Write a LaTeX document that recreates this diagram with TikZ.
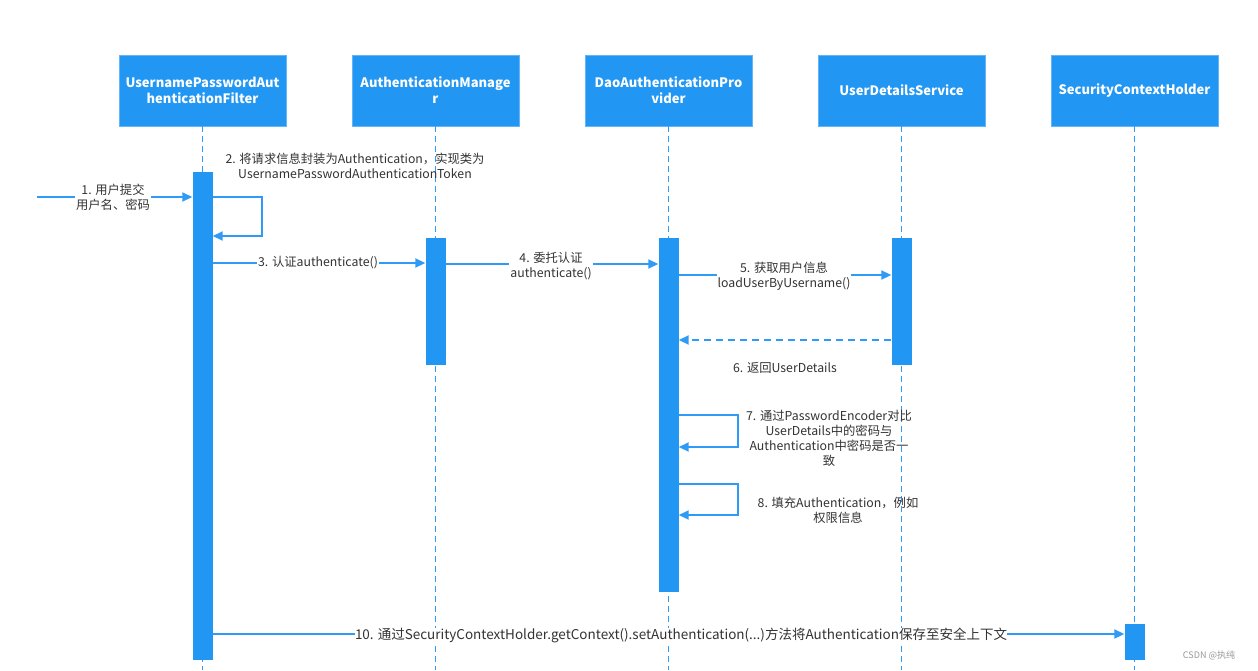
\documentclass[tikz,border=0pt]{standalone}
\usepackage{fontspec}
\setmainfont{Noto Sans CJK SC}
\usetikzlibrary{arrows.meta}
\definecolor{bl}{HTML}{2196F3}
\definecolor{ln}{HTML}{2F9BF7}
\definecolor{tx}{HTML}{333333}
\definecolor{wm}{HTML}{999999}
\begin{document}
\begin{tikzpicture}[x=1pt,y=-1pt,
  head/.style={fill=bl,draw=bl!70!white,line width=0.6pt,minimum width=167pt,minimum height=71pt,text=white,
    font=\fontsize{13}{16}\selectfont\bfseries,align=center,inner sep=0pt},
  bar/.style={fill=bl,minimum width=20pt,inner sep=0pt,draw=none},
  life/.style={draw=ln,dash pattern=on 6pt off 4pt,line width=1.3pt},
  msg/.style={draw=ln,line width=1.8pt,-{Triangle[length=10pt,width=9pt]}},
  ret/.style={msg,dash pattern=on 7pt off 5pt},
  lbl/.style={text=tx,font=\fontsize{12.3}{15}\selectfont,align=center,inner sep=1pt},
  lblw/.style={lbl,fill=white}]
\useasboundingbox (0,0) rectangle (1258,670);
\fill[white] (0,0) rectangle (1258,670);

% heads
\node[head] (b1) at (202.5,90.5) {UsernamePasswordAut\\henticationFilter};
\node[head] (b2) at (435.5,90.5) {AuthenticationManage\\r};
\node[head] (b3) at (668.5,90.5) {DaoAuthenticationPro\\vider};
\node[head] (b4) at (901.5,90.5) {UserDetailsService};
\node[head] (b5) at (1134.5,90.5) {SecurityContextHolder};

% lifeline ends
\coordinate (e1) at (202.5,670);
\coordinate (e2) at (435.5,670);
\coordinate (e3) at (668.5,670);
\coordinate (e4) at (901.5,670);
\coordinate (e5) at (1134.5,670);
\draw[life] (b1.south) -- (e1);
\draw[life] (b2.south) -- (e2);
\draw[life] (b3.south) -- (e3);
\draw[life] (b4.south) -- (e4);
\draw[life] (b5.south) -- (e5);

% activation bars
\node[bar,minimum height=488pt] (a1) at (202.5,416) {};
\node[bar,minimum height=127pt] (a2) at (435.5,301.5) {};
\node[bar,minimum height=354pt] (a3) at (668.5,415) {};
\node[bar,minimum height=127pt] (a4) at (901.5,301.5) {};
\node[bar,minimum height=36pt] (a5) at (1134.5,642) {};

% 1
\coordinate (s1) at (37,197);
\draw[msg] (s1) -- (a1.west |- s1);
\node[lblw] (t1) at (113,197) {1. 用户提交\\用户名、密码};

% 2 self loop
\coordinate (l2a) at (262,197);
\coordinate (l2b) at (262,236);
\draw[msg] (a1.east |- l2a) -- (l2a) -- (l2b) -- (a1.east |- l2b);
\node[lbl] (t2) at (355,166) {2. 将请求信息封装为Authentication，实现类为\\UsernamePasswordAuthenticationToken};

% 3
\coordinate (m3) at (300,263);
\draw[msg] (a1.east |- m3) -- (a2.west |- m3);
\node[lblw] (t3) at (318,263) {3. 认证authenticate()};

% 4
\coordinate (m4) at (550,264);
\draw[msg] (a2.east |- m4) -- (a3.west |- m4);
\node[lblw] (t4) at (551,266) {4. 委托认证\\authenticate()};

% 5
\coordinate (m5) at (784,275);
\draw[msg] (a3.east |- m5) -- (a4.west |- m5);
\node[lblw] (t5) at (784,276) {5. 获取用户信息\\loadUserByUsername()};

% 6
\coordinate (m6) at (784,340);
\draw[ret] (a4.west |- m6) -- (a3.east |- m6);
\node[lbl] (t6) at (785,368) {6. 返回UserDetails};

% 7 self loop
\coordinate (l7a) at (738,415);
\coordinate (l7b) at (738,447);
\draw[msg] (a3.east |- l7a) -- (l7a) -- (l7b) -- (a3.east |- l7b);
\node[lbl] (t7) at (829,438) {7. 通过PasswordEncoder对比\\UserDetails中的密码与\\Authentication中密码是否一\\致};

% 8 self loop
\coordinate (l8a) at (738,484);
\coordinate (l8b) at (738,515);
\draw[msg] (a3.east |- l8a) -- (l8a) -- (l8b) -- (a3.east |- l8b);
\node[lbl] (t8) at (838,510) {8. 填充Authentication，例如\\权限信息};

% 10
\coordinate (m10) at (680,634);
\draw[msg] (a1.east |- m10) -- (a5.west |- m10);
\node[lblw,inner sep=0pt,font=\fontsize{13.5}{16}\selectfont] (t10) at (681,635) {10. 通过SecurityContextHolder.getContext().setAuthentication(...)方法将Authentication保存至安全上下文};

% watermark
\node[text=wm,font=\fontsize{9}{11}\selectfont,inner sep=0pt] (wmk) at (1209,655) {CSDN @执纯};
\end{tikzpicture}
\end{document}
